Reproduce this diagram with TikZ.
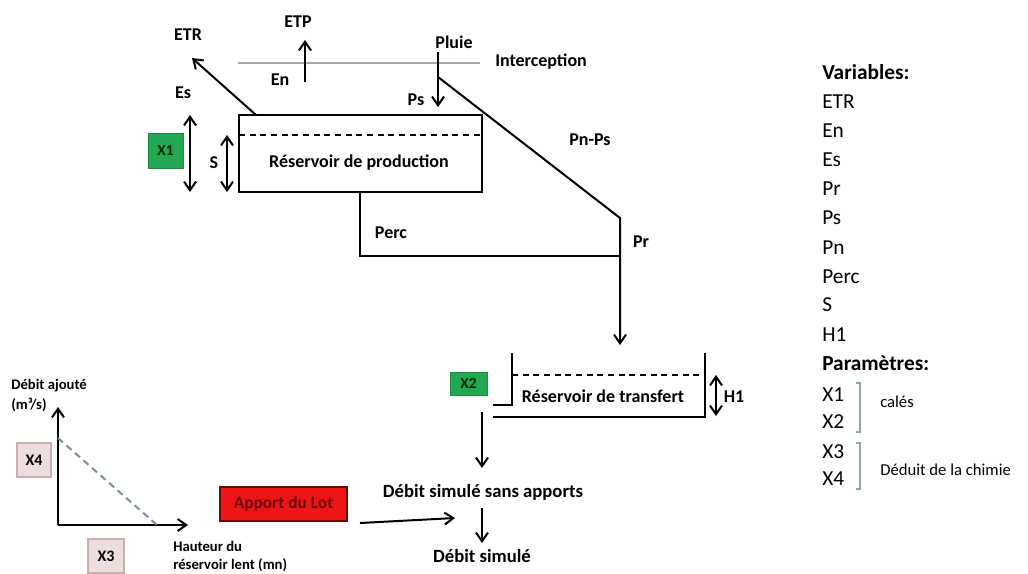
\documentclass[tikz,border=0pt]{standalone}
\usepackage{fontspec}
\setmainfont{Carlito}
\usetikzlibrary{arrows.meta}
\definecolor{xgreen}{HTML}{22A852}
\definecolor{xgreenb}{HTML}{1C8C44}
\definecolor{xpink}{HTML}{ECDEDE}
\definecolor{xpinkb}{HTML}{C9AEAE}
\definecolor{lotred}{HTML}{EE1515}
\definecolor{lotdark}{HTML}{6E0808}
\definecolor{brk}{HTML}{8AA8A4}
\definecolor{dashgray}{HTML}{7C8C9C}
\definecolor{intgray}{HTML}{A8A8A8}
\begin{document}
\begin{tikzpicture}[x=0.75pt,y=-0.75pt,
  lbl/.style={font=\bfseries\fontsize{13.5}{15}\selectfont, inner sep=0pt},
  small/.style={font=\bfseries\fontsize{11}{12}\selectfont, inner sep=0pt, anchor=west},
  leg/.style={font=\fontsize{16}{18}\selectfont, anchor=west, inner sep=0pt},
  legb/.style={font=\bfseries\fontsize{16}{18}\selectfont, anchor=west, inner sep=0pt},
  note/.style={font=\fontsize{12.5}{14}\selectfont, anchor=west, inner sep=0pt},
  wall/.style={line width=1.5pt},
  flow/.style={line width=1.5pt, -{Straight Barb[length=6.5pt,width=9pt]}},
  dbl/.style={line width=1.5pt, {Straight Barb[length=6.5pt,width=9pt]}-{Straight Barb[length=6.5pt,width=9pt]}},
  lvl/.style={line width=1.5pt, dash pattern=on 4.5pt off 3.5pt},
  xbox/.style={fill=xgreen, draw=xgreenb, inner sep=0pt, font=\bfseries\fontsize{11.5}{13}\selectfont, text=black!85!green},
  pbox/.style={fill=xpink, draw=xpinkb, line width=1pt, inner sep=0pt, font=\bfseries\fontsize{12}{14}\selectfont},
  bracket/.style={draw=brk, line width=0.8pt}
]
\useasboundingbox (0,0) rectangle (1028,574);

% ---------- production reservoir ----------
\node[wall, draw, minimum width=182.25pt, minimum height=57.75pt, inner sep=0pt] (prod) at (360.5,153.5) {};
\coordinate (lvlL) at (239,135);
\coordinate (lvlR) at (482,135);
\draw[lvl] (lvlL) -- (lvlR);
\node[lbl] (prodt) at (359,163) {Réservoir de production};

% interception
\coordinate (intL) at (238,63);
\coordinate (intR) at (480,63);
\draw[intgray, line width=1.2pt] (intL) -- (intR);
\node[lbl, anchor=west] (interc) at (495,62) {Interception};

% ETR
\node[lbl] (etr) at (188,35) {ETR};
\coordinate (etrS) at (256,115);
\coordinate (etrT) at (192,58);
\draw[flow] (etrS) -- (etrT);
\node[lbl] (es) at (183,93) {Es};

% ETP / En
\node[lbl] (etp) at (298,22) {ETP};
\coordinate (etpS) at (305,82);
\coordinate (etpT) at (305,40);
\draw[flow] (etpS) -- (etpT);
\node[lbl] (en) at (280,80) {En};

% Pluie / Ps
\node[lbl] (pluie) at (454,42) {Pluie};
\coordinate (plS) at (438,52);
\coordinate (plT) at (438,107);
\draw[flow] (plS) -- (plT);
\node[lbl] (ps) at (416,100) {Ps};

% Pn-Ps, Pr
\coordinate (pnS) at (438,77);
\coordinate (pnK) at (620,218);
\coordinate (prJ) at (620,256);
\coordinate (prT) at (620,345);
\draw[flow] (pnS) -- (pnK) -- (prT);
\node[lbl] (pnps) at (590,140) {Pn-Ps};
\node[lbl] (pr) at (641,242) {Pr};

% Perc
\coordinate (percS) at (360,192);
\coordinate (percK) at (360,256);
\draw[wall] (percS) -- (percK) -- (prJ);
\node[lbl] (perc) at (391,233) {Perc};

% X1 and S
\node[xbox, minimum width=26.25pt, minimum height=26.25pt] (x1) at (165.5,150.5) {X1};
\coordinate (x1T) at (190,115);
\coordinate (x1B) at (190,192);
\draw[dbl] (x1T) -- (x1B);
\coordinate (sT) at (227,135);
\coordinate (sB) at (227,192);
\draw[dbl] (sT) -- (sB);
\node[lbl] (s) at (214,163) {S};

% ---------- transfer reservoir ----------
\coordinate (trA) at (493,405);
\coordinate (trB) at (512,405);
\coordinate (trC) at (512,353);
\coordinate (trD) at (493,417);
\coordinate (trE) at (705,417);
\coordinate (trF) at (705,353);
\draw[wall] (trA) -- (trB) -- (trC);
\draw[wall] (trD) -- (trE) -- (trF);
\coordinate (tlvlL) at (512,375);
\coordinate (tlvlR) at (705,375);
\draw[lvl] (tlvlL) -- (tlvlR);
\node[lbl] (trt) at (603,396) {Réservoir de transfert};
\coordinate (h1T) at (716,375);
\coordinate (h1B) at (716,416);
\draw[dbl] (h1T) -- (h1B);
\node[lbl] (h1) at (734,397) {H1};
\node[xbox, minimum width=27.75pt, minimum height=17.25pt] (x2) at (468.5,383.5) {X2};

% outflow
\coordinate (outS) at (482,412);
\coordinate (outT) at (482,468);
\draw[flow] (outS) -- (outT);
\node[lbl, font=\bfseries\fontsize{14}{16}\selectfont] (sans) at (483,492) {Débit simulé sans apports};
\coordinate (simS) at (482,508);
\coordinate (simT) at (482,543);
\draw[flow] (simS) -- (simT);
\node[lbl, font=\bfseries\fontsize{14}{16}\selectfont] (sim) at (482,556) {Débit simulé};

% Apport du Lot
\node[fill=lotred, draw=lotdark, line width=1pt, minimum width=95.25pt, minimum height=25.5pt, inner sep=0pt,
      font=\bfseries\fontsize{13}{15}\selectfont, text=lotdark] (lot) at (283.5,504) {Apport du Lot};
\coordinate (lotS) at (360,523);
\coordinate (lotT) at (455,518);
\draw[flow] (lotS) -- (lotT);

% ---------- graph ----------
\coordinate (orig) at (58,525);
\coordinate (yT) at (58,407);
\coordinate (xT) at (188,525);
\draw[flow] (orig) -- (yT);
\draw[flow] (orig) -- (xT);
\coordinate (dA) at (58,438);
\coordinate (dB) at (157,525);
\draw[dashgray, line width=1.5pt, dash pattern=on 5pt off 3.5pt] (dA) -- (dB);
\node[small] (dab) at (11,386) {Débit ajouté};
\node[small] (m3) at (11,405) {(m³/s)};
\node[small] (hau) at (173,546) {Hauteur du};
\node[small] (rlent) at (173,565) {réservoir lent (mn)};
\node[pbox, minimum width=25.5pt, minimum height=25.5pt] (x4) at (34,460) {X4};
\node[pbox, minimum width=27pt, minimum height=25.5pt] (x3) at (106,556) {X3};

% ---------- legend ----------
\node[legb] (lv) at (822,72) {Variables:};
\node[leg] (l1) at (822,102) {ETR};
\node[leg] (l2) at (822,131) {En};
\node[leg] (l3) at (822,160) {Es};
\node[leg] (l4) at (822,189) {Pr};
\node[leg] (l5) at (822,218) {Ps};
\node[leg] (l6) at (822,248) {Pn};
\node[leg] (l7) at (822,277) {Perc};
\node[leg] (l8) at (822,305) {S};
\node[leg] (l9) at (822,335) {H1};
\node[legb] (lp) at (822,363) {Paramètres:};
\node[leg] (p1) at (822,395) {X1};
\node[leg] (p2) at (822,422) {X2};
\node[leg] (p3) at (822,452) {X3};
\node[leg] (p4) at (822,479) {X4};
\coordinate (b1a) at (856,383);
\coordinate (b1b) at (860,383);
\coordinate (b1c) at (860,432);
\coordinate (b1d) at (856,432);
\draw[bracket] (b1a) -- (b1b) -- (b1c) -- (b1d);
\coordinate (b2a) at (856,443);
\coordinate (b2b) at (860,443);
\coordinate (b2c) at (860,489);
\coordinate (b2d) at (856,489);
\draw[bracket] (b2a) -- (b2b) -- (b2c) -- (b2d);
\node[note] (cal) at (880,402) {calés};
\node[note] (ded) at (880,470) {Déduit de la chimie};
\end{tikzpicture}
\end{document}
